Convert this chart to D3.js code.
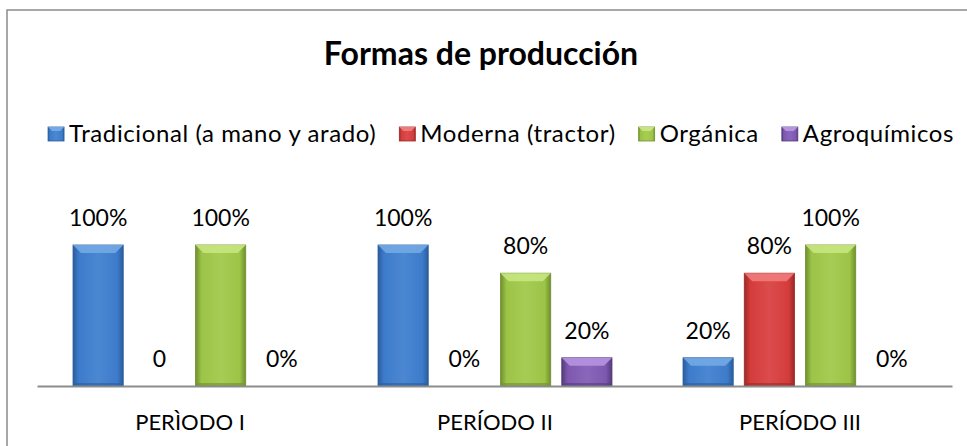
<!DOCTYPE html>
<html>
<head>
<meta charset="utf-8">
<script src="https://cdn.jsdelivr.net/npm/d3@7"></script>
<style>
  body { margin: 0; background: #fff; }
  svg { display: block; font-family: Lato, "Open Sans", sans-serif; }
</style>
</head>
<body>
<svg></svg>
<script>
// data
let periods = ['PERÌODO I', 'PERÍODO II', 'PERÍODO III'];
let series  = ['Tradicional (a mano y arado)', 'Moderna (tractor)', 'Orgánica', 'Agroquímicos'];
let tradicional = [1.00, 1.00, 0.20],
    moderna     = [0.00, 0.00, 0.80],
    organica    = [1.00, 0.80, 1.00],
    agroquim    = [0.00, 0.20, 0.00];
let tradicionalLabels = ['100%', '100%', '20%'],
    modernaLabels     = ['0', '0%', '80%'],
    organicaLabels    = ['100%', '80%', '100%'],
    agroquimLabels    = ['0%', '20%', '0%'];

let values = [tradicional, moderna, organica, agroquim],
    labels = [tradicionalLabels, modernaLabels, organicaLabels, agroquimLabels];

let colors = [
  {base: '#3d7ccb', light: '#74a9e6', dark: '#2b5c9c'},
  {base: '#d43c3c', light: '#ef7b7b', dark: '#9c2828'},
  {base: '#9cc447', light: '#c6e57f', dark: '#6f8f2e'},
  {base: '#7d58ae', light: '#b694e0', dark: '#553b7c'}
];

let width    = 967,
    height   = 446,
    baseline = 386,
    plotTop  = 245;

let rows = [];
periods.forEach((p, i) => {
  series.forEach((s, j) => {
    rows.push({period: p, s: j, value: values[j][i], label: labels[j][i]});
  });
});

let x0 = d3.scaleBand()
           .domain(periods)
           .range([37.5, 952.5]);

let x1 = d3.scaleBand()
           .domain(d3.range(series.length))
           .range([30, x0.bandwidth() - 30])
           .paddingInner(0.18)
           .paddingOuter(0.09);

let y = d3.scaleLinear()
          .domain([0, 1])
          .range([baseline, plotTop]);

let svg = d3.select('svg')
            .attr('width', width)
            .attr('height', height);

// gradients
let defs = svg.append('defs');
colors.forEach((c, i) => {
  let g = defs.append('linearGradient')
              .attr('id', 'g' + i)
              .attr('x1', 0).attr('x2', 1).attr('y1', 0).attr('y2', 0);
  g.append('stop').attr('offset', '0%').attr('stop-color', c.dark);
  g.append('stop').attr('offset', '12%').attr('stop-color', c.base);
  g.append('stop').attr('offset', '50%').attr('stop-color', d3.interpolateRgb(c.base, c.light)(0.25));
  g.append('stop').attr('offset', '88%').attr('stop-color', c.base);
  g.append('stop').attr('offset', '100%').attr('stop-color', c.dark);
});

// frame
svg.append('rect')
   .attr('x', 7).attr('y', 10)
   .attr('width', width + 10).attr('height', height + 10)
   .attr('fill', 'none')
   .attr('stroke', '#8c8c8c')
   .attr('stroke-width', 1.5);

// title
svg.append('text')
   .attr('x', 481)
   .attr('y', 65)
   .attr('text-anchor', 'middle')
   .attr('font-weight', 'bold')
   .attr('font-size', 32)
   .text('Formas de producción');

// legend
let legend = svg.append('g');
let items = legend.selectAll('g')
                  .data(series)
                  .enter()
                  .append('g');
items.append('rect')
     .attr('y', 127)
     .attr('width', 16)
     .attr('height', 14)
     .attr('fill', (d, i) => 'url(#g' + i + ')')
     .attr('stroke', (d, i) => colors[i].dark)
     .attr('stroke-width', 0.8);
items.append('path')
     .attr('d', 'M0,127 L16,127 L12,131 L4,131 Z')
     .attr('fill', (d, i) => colors[i].light);
items.append('text')
     .attr('x', 21)
     .attr('y', 142)
     .attr('font-size', 24)
     .attr('letter-spacing', 0.6)
     .text(d => d);
let xpos = 0;
items.each(function() {
  let w = this.getBBox().width;
  d3.select(this).attr('data-x', xpos);
  xpos += w + 23;
});
let total = xpos - 23,
    start = 501 - total / 2;
items.attr('transform', function() {
  return `translate(${start + (+this.getAttribute('data-x'))}, 0)`;
});

// bars
let bars = svg.append('g')
              .selectAll('g')
              .data(rows)
              .enter()
              .append('g')
              .attr('transform', d => `translate(${x0(d.period) + x1(d.s)}, 0)`);

let bw    = x1.bandwidth(),
    bevel = 8;

bars.filter(d => d.value > 0)
    .append('rect')
    .attr('y', d => y(d.value))
    .attr('width', bw)
    .attr('height', d => baseline - y(d.value))
    .attr('fill', d => 'url(#g' + d.s + ')')
    .attr('stroke', d => colors[d.s].dark)
    .attr('stroke-width', 0.8);

bars.filter(d => d.value > 0)
    .append('path')
    .attr('d', d => {
      let t = y(d.value), b = Math.min(bevel, (baseline - t) / 2);
      return `M0,${t} L${bw},${t} L${bw - b},${t + b} L${b},${t + b} Z`;
    })
    .attr('fill', d => colors[d.s].light)
    .attr('opacity', 0.9);

bars.filter(d => d.value > 0)
    .append('path')
    .attr('d', `M0,${baseline} L${bw},${baseline} L${bw - 3},${baseline - 3} L3,${baseline - 3} Z`)
    .attr('fill', d => colors[d.s].dark)
    .attr('opacity', 0.6);

// value labels
bars.append('text')
    .attr('x', bw / 2)
    .attr('y', d => y(d.value) - 19)
    .attr('text-anchor', 'middle')
    .attr('font-size', 23)
    .text(d => d.label);

// axis
svg.append('line')
   .attr('x1', x0.range()[0]).attr('x2', x0.range()[1])
   .attr('y1', baseline + 0.5).attr('y2', baseline + 0.5)
   .attr('stroke', '#8c8c8c')
   .attr('stroke-width', 1.8);

svg.append('g')
   .selectAll('text')
   .data(periods)
   .enter()
   .append('text')
   .attr('x', d => x0(d) + x0.bandwidth() / 2)
   .attr('y', 430)
   .attr('text-anchor', 'middle')
   .attr('font-size', 22)
   .text(d => d);
</script>
</body>
</html>
